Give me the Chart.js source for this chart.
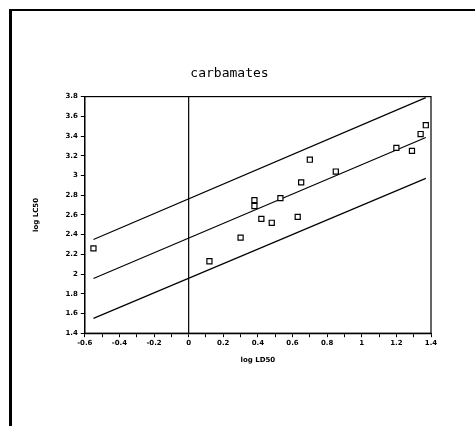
<!DOCTYPE html>
<html>
  <head>
    <script src="https://cdn.jsdelivr.net/npm/chart.js@4.4.0/dist/chart.umd.min.js"></script>
    <style>
      body { margin: 0; background: #fff; }
      #wrap { position: relative; width: 475px; height: 426px; }
      #frame {
        position: absolute; left: 9px; top: 9px; right: 0; bottom: 0;
        border-top: 2px solid #000; border-left: 3px solid #000;
        pointer-events: none;
      }
    </style>
  </head>
  <body>
    <div id="wrap">
      <canvas id="chart" width="475" height="426"></canvas>
      <div id="frame"></div>
    </div>
    <script>
      // carbamates: log LD50 vs log LC50
      var logLD50 = [-0.55, 0.12, 0.30, 0.38, 0.38, 0.42, 0.48, 0.53, 0.63, 0.65, 0.70, 0.85, 1.20, 1.29, 1.34, 1.37];
      var logLC50 = [2.26, 2.13, 2.37, 2.75, 2.69, 2.56, 2.52, 2.77, 2.58, 2.93, 3.16, 3.04, 3.28, 3.25, 3.42, 3.51];

      // regression line and its bounds (end points)
      var fitX = [-0.55, 1.37];
      var fitMid = [1.955, 3.385];
      var fitUpper = [2.35, 3.79];
      var fitLower = [1.55, 2.97];

      // vertical reference line at log LD50 = 0
      var zeroX = [0, 0];
      var zeroY = [1.4, 3.8];

      function pts(xs, ys) {
        return xs.map(function (x, i) { return { x: x, y: ys[i] }; });
      }

      function lineSet(xs, ys) {
        return {
          type: 'line',
          data: pts(xs, ys),
          borderColor: '#000',
          borderWidth: 1.2,
          pointRadius: 0,
          fill: false
        };
      }

      var frame = {
        id: 'frame',
        afterDraw: function (chart) {
          var a = chart.chartArea, c = chart.ctx;
          c.save();
          c.strokeStyle = '#000';
          c.lineWidth = 1.2;
          c.strokeRect(a.left, a.top, a.right - a.left, a.bottom - a.top);
          c.restore();
        }
      };

      var tickFont = { family: 'DejaVu Sans', size: 7, weight: 'bold' };

      new Chart(document.getElementById('chart'), {
        type: 'scatter',
        data: {
          datasets: [
            {
              data: pts(logLD50, logLC50),
              pointStyle: 'rect',
              pointRadius: 3.6,
              pointBorderWidth: 1.2,
              borderColor: '#000',
              backgroundColor: '#fff'
            },
            lineSet(fitX, fitUpper),
            lineSet(fitX, fitMid),
            lineSet(fitX, fitLower),
            lineSet(zeroX, zeroY)
          ]
        },
        options: {
          responsive: false,
          animation: false,
          layout: { padding: { top: 66, left: 28, right: 44, bottom: 58 } },
          plugins: {
            legend: { display: false },
            tooltip: { enabled: false },
            title: {
              display: true,
              text: 'carbamates',
              color: '#000',
              font: { family: 'DejaVu Sans Mono', size: 13, weight: 'normal' },
              padding: { top: 0, bottom: 15 }
            }
          },
          scales: {
            x: {
              type: 'linear',
              min: -0.6,
              max: 1.4,
              ticks: {
                stepSize: 0.1,
                autoSkip: false,
                maxRotation: 0,
                color: '#000',
                font: tickFont,
                padding: 2,
                callback: function (v) {
                  var r = Math.round(v * 10);
                  return r % 2 === 0 ? String(Number((r / 10).toFixed(1))) : '';
                }
              },
              grid: { drawOnChartArea: false, color: '#000', tickLength: 4 },
              border: { color: '#000', width: 1.2 },
              title: {
                display: true,
                text: 'log LD50',
                color: '#000',
                font: { family: 'DejaVu Sans', size: 7, weight: 'bold' },
                padding: { top: 6 }
              }
            },
            y: {
              type: 'linear',
              min: 1.4,
              max: 3.8,
              ticks: {
                stepSize: 0.2,
                color: '#000',
                font: tickFont,
                padding: 3,
                callback: function (v) { return String(Number(v.toFixed(1))); }
              },
              grid: { drawOnChartArea: false, color: '#000', tickLength: 4 },
              border: { color: '#000', width: 1.2 },
              title: {
                display: true,
                text: 'log LC50',
                color: '#000',
                font: { family: 'DejaVu Sans', size: 7, weight: 'bold' },
                padding: { bottom: 22 }
              }
            }
          }
        },
        plugins: [frame]
      });
    </script>
  </body>
</html>
